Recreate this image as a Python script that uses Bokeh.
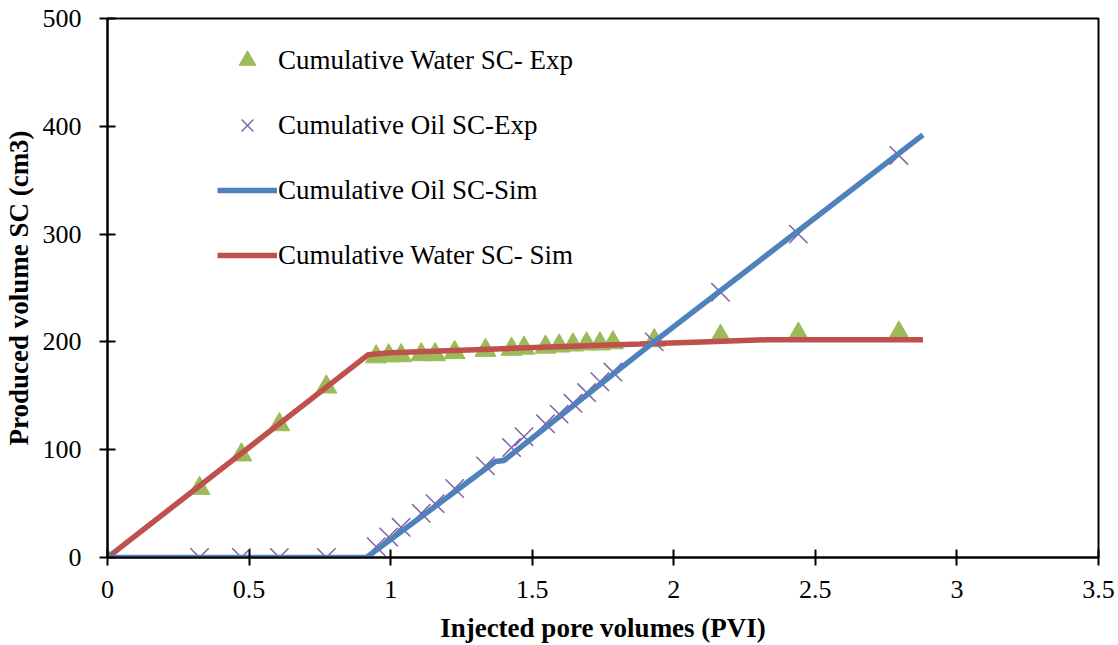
from bokeh.plotting import figure
from bokeh.models import Legend, LegendItem, FixedTicker, Range1d, ColumnDataSource
from bokeh.transform import dodge
from bokeh.embed import file_html
from bokeh.resources import INLINE

# Experimental data (shared PVI values)
pvi_exp = [0, 0.325, 0.473, 0.607, 0.773, 0.949, 0.993, 1.037, 1.108, 1.157, 1.226,
           1.335, 1.427, 1.471, 1.547, 1.595, 1.644, 1.692, 1.739, 1.785, 1.931,
           2.165, 2.440, 2.795]
water_exp = [0, 67, 98, 126, 161, 189, 190, 190, 191, 191, 193,
             195, 196, 197, 198, 199, 200, 201, 201, 202, 204,
             208, 210, 211]
oil_exp = [0, 0, 0, 0, 0, 10, 19, 28, 41, 50, 64,
           85, 102, 112, 124, 133, 143, 153, 163, 172, 200,
           246, 300, 373]

# Simulation curves
pvi_oil_sim = [0, 0.915, 0.94, 1.37, 1.40, 1.93, 2.88]
oil_sim = [0, 0, 5, 89, 90, 200, 392]
pvi_water_sim = [0, 0.92, 1.0, 1.43, 1.88, 2.10, 2.33, 2.88]
water_sim = [0, 188, 190, 194, 198, 200, 202, 202]

x_ticks = [0, 0.5, 1, 1.5, 2, 2.5, 3, 3.5]
x_tick_labels = ["0", "0.5", "1", "1.5", "2", "2.5", "3", "3.5"]
y_ticks = [0, 100, 200, 300, 400, 500]

FONT = "Liberation Serif"

p = figure(width=1118, height=645, output_backend="svg", toolbar_location=None,
           x_range=Range1d(0, 3.5), y_range=Range1d(0, 500),
           min_border_left=106, min_border_right=20, min_border_top=18, min_border_bottom=88)
p.grid.visible = False
p.background_fill_color = "white"
p.border_fill_color = "white"
p.outline_line_color = "black"
p.outline_line_width = 2

src_exp = ColumnDataSource(dict(x=pvi_exp, w=water_exp, o=oil_exp))

# Excel centres triangle markers on their bounding box; Bokeh on the centroid
r_w_exp = p.scatter("x", dodge("w", -2.8, range=p.y_range), source=src_exp, marker="triangle", size=21,
                    fill_color="#9BBB59", line_color="#9BBB59")
r_w_sim = p.line(pvi_water_sim, water_sim, line_color="#C0504D", line_width=5.5)
r_o_exp = p.scatter("x", "o", source=src_exp, marker="x", size=26,
                    line_color="#8064A2", line_width=1.5)
r_o_sim = p.line(pvi_oil_sim, oil_sim, line_color="#4F81BD", line_width=5.5)

for ax in (p.xaxis[0], p.yaxis[0]):
    ax.axis_line_width = 2
    ax.axis_line_color = "black"
    ax.major_tick_line_width = 2
    ax.major_tick_in = 8
    ax.major_tick_out = 8
    ax.minor_tick_line_color = None
    ax.major_label_text_font = FONT
    ax.major_label_text_font_size = "26px"
    ax.major_label_text_color = "black"
    ax.axis_label_text_font = FONT
    ax.axis_label_text_font_size = "27px"
    ax.axis_label_text_font_style = "bold"
    ax.axis_label_text_color = "black"

p.xaxis.ticker = FixedTicker(ticks=x_ticks)
p.xaxis.major_label_overrides = {t: l for t, l in zip(x_ticks, x_tick_labels)}
p.yaxis.ticker = FixedTicker(ticks=y_ticks)
p.xaxis.axis_label = "Injected pore volumes (PVI)"
p.yaxis.axis_label = "Produced volume SC (cm3)"
p.xaxis.major_label_standoff = 15
p.xaxis.axis_label_standoff = 12
p.yaxis.major_label_standoff = 18
p.yaxis.axis_label_standoff = 6

legend = Legend(items=[
    LegendItem(label="Cumulative Water SC- Exp", renderers=[r_w_exp]),
    LegendItem(label="Cumulative Oil SC-Exp", renderers=[r_o_exp]),
    LegendItem(label="Cumulative Oil SC-Sim", renderers=[r_o_sim]),
    LegendItem(label="Cumulative Water SC- Sim", renderers=[r_w_sim]),
], location=(110, 281))
legend.border_line_color = None
legend.background_fill_alpha = 0
legend.padding = 0
legend.margin = 0
legend.spacing = 23
legend.glyph_width = 60
legend.glyph_height = 42
legend.label_height = 42
legend.label_standoff = 1
legend.label_text_font = FONT
legend.label_text_font_size = "27px"
legend.label_text_color = "black"
p.add_layout(legend)

open("out.html", "w").write(file_html(p, INLINE))
